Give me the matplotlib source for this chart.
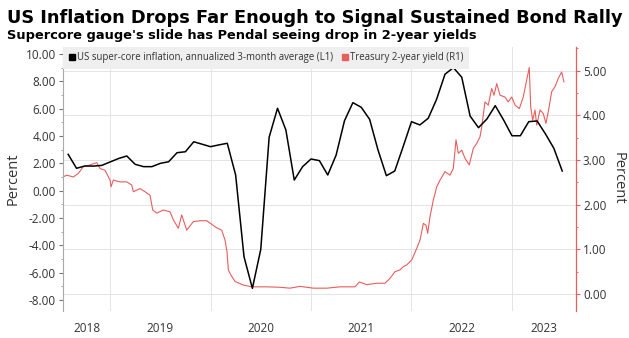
import numpy as np
import pandas as pd
import matplotlib
matplotlib.use('Agg')
import matplotlib.pyplot as plt
from matplotlib.lines import Line2D
from matplotlib.ticker import MultipleLocator, FixedLocator

# monthly supercore inflation, annualized 3m avg (left axis)
core_months = pd.date_range('2018-08-01', '2023-07-01', freq='MS')
core_vals = [2.66, 1.64, 1.81, 1.80, 1.85,
             2.10, 2.35, 2.54, 1.93, 1.76, 1.76, 2.00, 2.12, 2.78, 2.85, 3.58, 3.40,
             3.22, 3.35, 3.47, 1.15, -4.83, -7.14, -4.29, 3.91, 6.03, 4.44, 0.78, 1.76,
             2.32, 2.20, 1.15, 2.61, 5.12, 6.44, 6.10, 5.22, 2.98, 1.10, 1.44, 3.22,
             5.05, 4.81, 5.30, 6.69, 8.52, 9.00, 8.30, 5.46, 4.61, 5.24, 6.22, 5.17,
             4.02, 4.02, 5.05, 5.10, 4.15, 3.10, 1.44]

# treasury 2y yield (right axis) (decimal years)
yld_t = [2018.532, 2018.569, 2018.635, 2018.685, 2018.734, 2018.801, 2018.868, 2018.900,
         2018.950, 2019.000, 2019.010, 2019.033, 2019.100, 2019.166, 2019.216, 2019.232,
         2019.299, 2019.348, 2019.398, 2019.425, 2019.465, 2019.530, 2019.597, 2019.630,
         2019.680, 2019.713, 2019.763, 2019.829, 2019.896, 2019.962, 2020.062, 2020.111,
         2020.144, 2020.164, 2020.177, 2020.204, 2020.244, 2020.326, 2020.410, 2020.559,
         2020.692, 2020.791, 2020.891, 2021.023, 2021.156, 2021.289, 2021.438, 2021.481,
         2021.554, 2021.654, 2021.736, 2021.786, 2021.836, 2021.886, 2021.918, 2021.952,
         2022.002, 2022.052, 2022.085, 2022.118, 2022.144, 2022.161, 2022.184, 2022.217,
         2022.251, 2022.284, 2022.333, 2022.383, 2022.416, 2022.443, 2022.466, 2022.500,
         2022.532, 2022.575, 2022.615, 2022.649, 2022.682, 2022.699, 2022.731, 2022.764,
         2022.798, 2022.821, 2022.848, 2022.881, 2022.930, 2022.963, 2022.997, 2023.030,
         2023.073, 2023.112, 2023.146, 2023.172, 2023.186, 2023.206, 2023.229, 2023.246,
         2023.279, 2023.311, 2023.338, 2023.361, 2023.395, 2023.428, 2023.461, 2023.494,
         2023.517]
yld_v = [2.62, 2.66, 2.62, 2.70, 2.85, 2.89, 2.94, 2.81,
         2.77, 2.55, 2.40, 2.55, 2.51, 2.51, 2.44, 2.29,
         2.36, 2.29, 2.21, 1.88, 1.81, 1.88, 1.84, 1.66,
         1.47, 1.77, 1.43, 1.62, 1.64, 1.64, 1.48, 1.43,
         1.21, 0.95, 0.54, 0.42, 0.28, 0.20, 0.16, 0.16,
         0.15, 0.13, 0.17, 0.13, 0.13, 0.16, 0.16, 0.27,
         0.21, 0.24, 0.24, 0.35, 0.50, 0.54, 0.61, 0.65,
         0.76, 1.02, 1.21, 1.58, 1.54, 1.36, 1.73, 2.10,
         2.40, 2.55, 2.74, 2.66, 2.81, 3.45, 3.15, 3.22,
         3.04, 2.89, 3.26, 3.37, 3.52, 3.74, 4.30, 4.23,
         4.60, 4.45, 4.71, 4.45, 4.41, 4.30, 4.41, 4.23,
         4.15, 4.41, 4.79, 5.07, 4.19, 3.89, 4.12, 3.78,
         4.12, 4.04, 3.82, 4.08, 4.53, 4.64, 4.83, 4.97,
         4.75]

years = [2018, 2019, 2020, 2021, 2022, 2023]
left_ticks = [-8, -6, -4, -2, 0, 2, 4, 6, 8, 10]
right_ticks = [0, 1, 2, 3, 4, 5]

RED = '#ea5d5d'
TXT = '#333333'
FONT = ['Open Sans', 'DejaVu Sans']

plt.rcParams['font.family'] = FONT

core_t = [d.year + (d.month - 1) / 12 for d in core_months]
x0, x1 = 2018.532, 2023.637

fig = plt.figure(figsize=(6.29, 3.38), dpi=100)
ax = fig.add_axes([63 / 629, 1 - 310.5 / 338, (576 - 63) / 629, (310.5 - 47) / 338])
ax2 = ax.twinx()

# red series on host axis (right side, carries the grid)
ax.plot(yld_t, yld_v, color=RED, lw=0.8)
ax.set_ylim(-0.37, 5.53)
ax.yaxis.tick_right()
ax.yaxis.set_label_position('right')
ax.set_yticks(right_ticks)
ax.set_yticklabels(['%.2f' % v for v in right_ticks])
ax.yaxis.set_minor_locator(MultipleLocator(0.5))
ax.tick_params(axis='y', which='major', colors=RED, labelcolor=TXT, length=3, width=0.8,
               labelsize=8.5, pad=2)
ax.tick_params(axis='y', which='minor', colors=RED, length=1.5, width=0.6)
ax.set_ylabel('Percent', rotation=270, fontsize=10.5, color=TXT, labelpad=14)
for s in ['left', 'top', 'bottom']:
    ax.spines[s].set_visible(False)
ax.spines['right'].set_color(RED)
ax.spines['right'].set_linewidth(0.9)

ax.set_xlim(x0, x1)
ax.xaxis.set_major_locator(FixedLocator(years[1:]))
ax.set_xticklabels([])
lab_pos = [(max(y, x0) + min(y + 1, x1)) / 2 for y in years]
ax.xaxis.set_minor_locator(FixedLocator(lab_pos))
ax.xaxis.set_minor_formatter(plt.FixedFormatter([str(y) for y in years]))
ax.tick_params(axis='x', which='both', length=0, labelsize=8.5, labelcolor=TXT, pad=8)
ax.grid(True, which='major', color='#e4e4e4', lw=0.7)
ax.set_axisbelow(True)

# black series on twin axis (left side)
ax2.plot(core_t, core_vals, color='black', lw=1.1)
ax2.set_ylim(-8.76, 10.51)
ax2.yaxis.tick_left()
ax2.yaxis.set_label_position('left')
ax2.set_yticks(left_ticks)
ax2.set_yticklabels(['%.2f' % v for v in left_ticks])
ax2.yaxis.set_minor_locator(MultipleLocator(1))
ax2.tick_params(axis='y', which='major', colors='#777777', labelcolor=TXT, length=3,
                width=0.8, labelsize=8.5, pad=2)
ax2.tick_params(axis='y', which='minor', colors='#999999', length=1.5, width=0.6)
ax2.set_ylabel('Percent', fontsize=10.5, color=TXT, labelpad=4)
for s in ['right', 'top', 'bottom']:
    ax2.spines[s].set_visible(False)
ax2.spines['left'].set_color('#aaaaaa')
ax2.spines['left'].set_linewidth(0.8)

handles = [Line2D([], [], marker='s', ls='None', color='black', markersize=5),
           Line2D([], [], marker='s', ls='None', color=RED, markersize=5)]
labels = ['US super-core inflation, annualized 3-month average (L1)',
          'Treasury 2-year yield (R1)']
leg = ax2.legend(handles, labels, loc='upper left', bbox_to_anchor=(0, 1), ncol=2,
                 borderaxespad=0, frameon=True, fancybox=False, fontsize=6.9,
                 handlelength=0.7, handletextpad=0.2, columnspacing=0.9,
                 borderpad=0.55)
leg.get_frame().set_facecolor('#efefef')
leg.get_frame().set_edgecolor('none')
leg.get_frame().set_alpha(1)
for t in leg.get_texts():
    t.set_color(TXT)

# titles, fitted to the widths seen in the reference
renderer = fig.canvas.get_renderer()
def fitted(txt, y, width_px, size):
    t = fig.text(7 / 629, y, txt, fontsize=size, fontweight='bold', va='baseline',
                 family=['DejaVu Sans'])
    w = t.get_window_extent(renderer).width
    t.set_fontsize(size * width_px / w)
    return t

fitted('US Inflation Drops Far Enough to Signal Sustained Bond Rally', 1 - 23.3 / 338, 613, 12)
fitted("Supercore gauge's slide has Pendal seeing drop in 2-year yields", 1 - 38.5 / 338, 469, 9)

fig.savefig('out.png', dpi=100)
